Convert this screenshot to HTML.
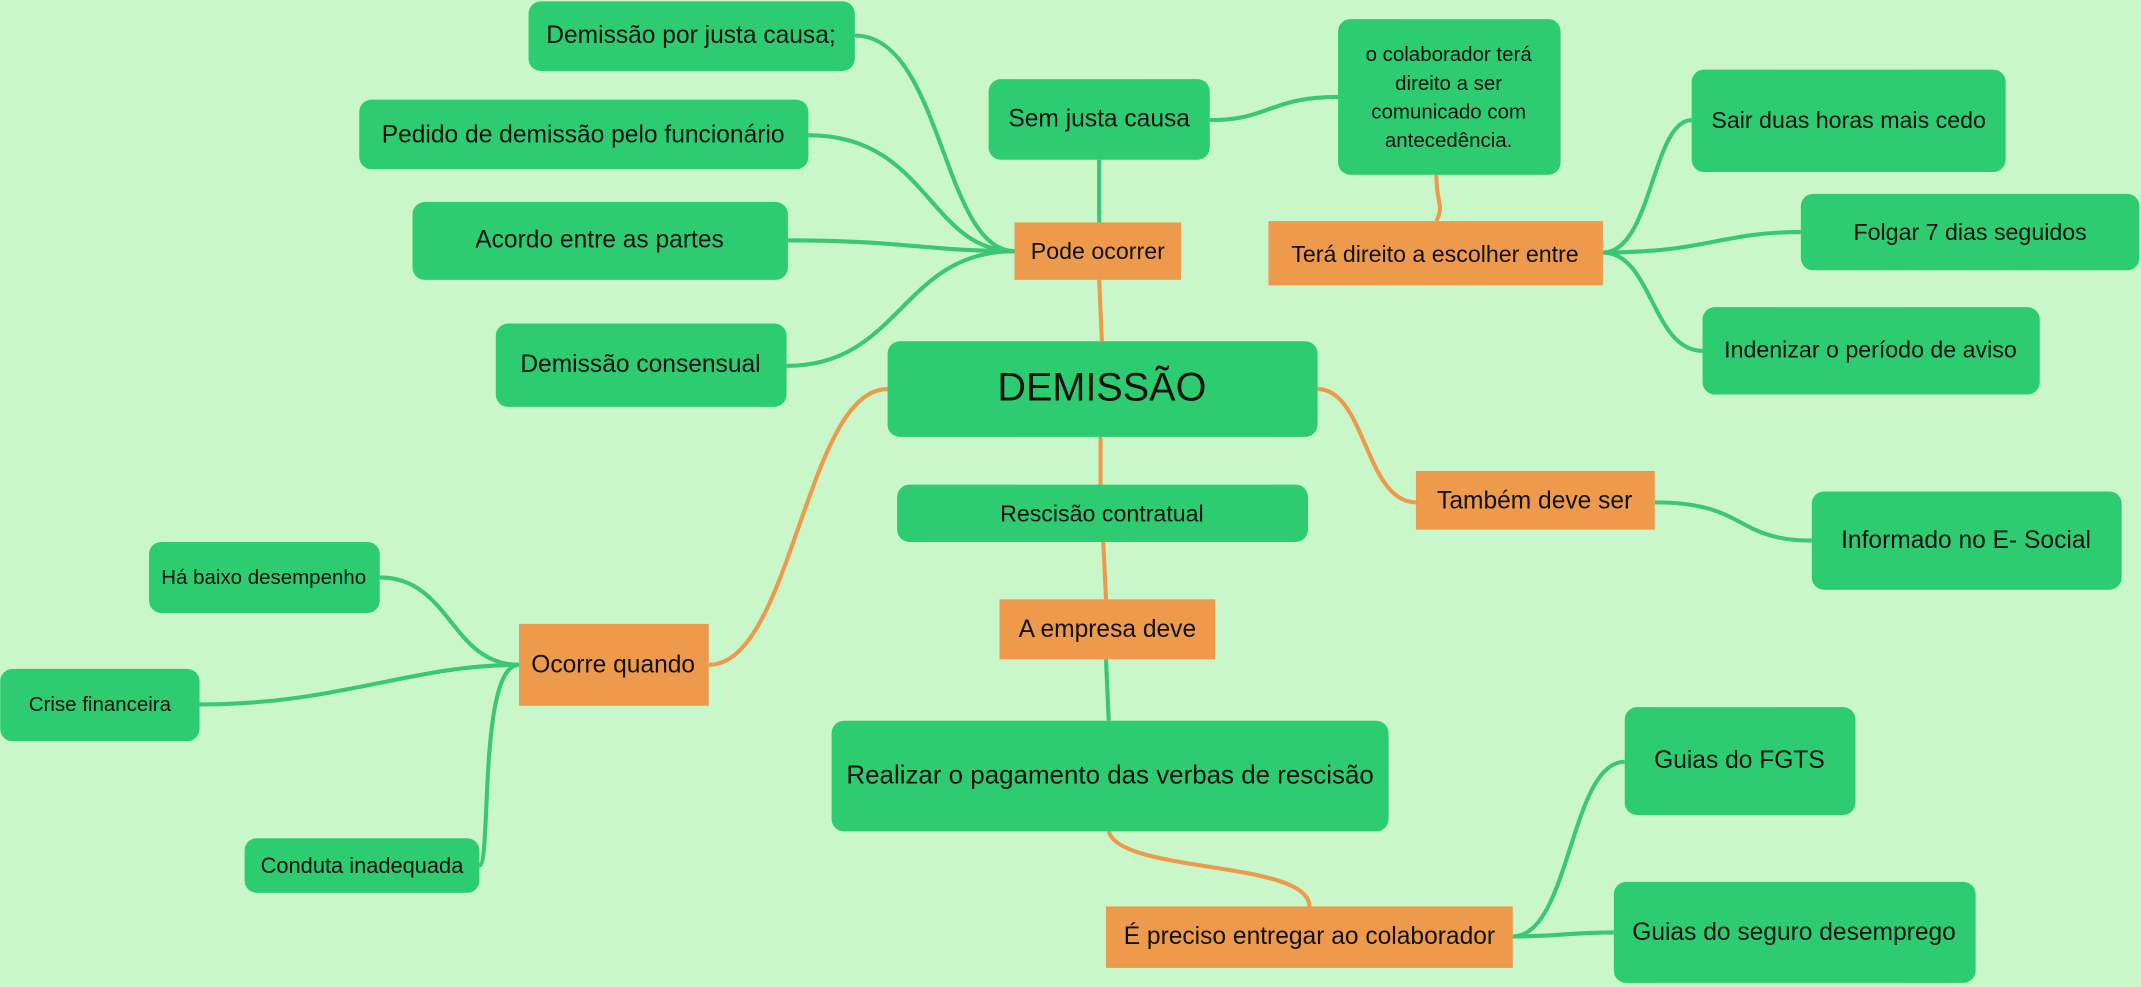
<!DOCTYPE html>
<html><head><meta charset="utf-8"><style>
html,body{margin:0;padding:0;background:#c9f7c9;}
svg{display:block}
text{font-family:"Comic Sans MS","Liberation Sans",sans-serif;fill:#111;text-anchor:middle;dominant-baseline:central}
.g{fill:#2ecc71}
.o{fill:#ee9a4c}
.lg{stroke:#3cc774;stroke-width:3;fill:none}
.lo{stroke:#ee9a4c;stroke-width:3;fill:none}
</style></head><body>
<svg width="2141" height="987" viewBox="0 0 1568 723" xmlns="http://www.w3.org/2000/svg">
<rect width="1568" height="723" fill="#c9f7c9"/>
<!-- connectors -->
<path class="lg" d="M743 184 C690 184 690 26 626 26"/>
<path class="lg" d="M743 184 C680 184 680 99 592 99"/>
<path class="lg" d="M743 184 C680 184 660 176 577 176"/>
<path class="lg" d="M743 184 C660 184 660 268 576 268"/>
<path class="lg" d="M805 117 L805 163"/>
<path class="lo" d="M805 205 L807 250"/>
<path class="lg" d="M886 88 C930 88 930 71 980 71"/>
<path class="lo" d="M1052 128 C1052 150 1058 150 1052 162"/>
<path class="lg" d="M1174 185 C1210 185 1210 88 1239 88"/>
<path class="lg" d="M1174 185 C1250 185 1260 170 1319 170"/>
<path class="lg" d="M1174 185 C1210 185 1210 257 1247 257"/>
<path class="lo" d="M965 285 C1000 285 1000 368 1037 368"/>
<path class="lg" d="M1212 368 C1280 368 1270 396 1327 396"/>
<path class="lo" d="M650 285 C590 285 580 487 519 487"/>
<path class="lg" d="M380 487 C330 487 330 423 278 423"/>
<path class="lg" d="M380 487 C300 487 250 516 146 516"/>
<path class="lg" d="M380 487 C350 487 360 634 351 634"/>
<path class="lo" d="M806 320 L806 355"/>
<path class="lo" d="M808 397 L810 439"/>
<path class="lg" d="M810 483 L812 528"/>
<path class="lo" d="M812 609 C820 640 959 630 959 664"/>
<path class="lg" d="M1108 686 C1150 686 1150 558 1190 558"/>
<path class="lg" d="M1108 686 C1140 686 1150 683 1182 683"/>
<!-- nodes -->
<rect class="g" x="387" y="1" width="239" height="51" rx="9"/><text x="506" y="26" font-size="18">Demissão por justa causa;</text>
<rect class="g" x="263" y="73" width="329" height="51" rx="9"/><text x="427" y="99" font-size="18">Pedido de demissão pelo funcionário</text>
<rect class="g" x="302" y="148" width="275" height="57" rx="9"/><text x="439" y="176" font-size="18">Acordo entre as partes</text>
<rect class="g" x="363" y="237" width="213" height="61" rx="9"/><text x="469" y="267" font-size="18">Demissão consensual</text>
<rect class="g" x="724" y="58" width="162" height="59" rx="9"/><text x="805" y="87" font-size="18">Sem justa causa</text>
<rect class="g" x="980" y="14" width="163" height="114" rx="9"/>
<text x="1061" y="40" font-size="15">o colaborador terá</text>
<text x="1061" y="61" font-size="15">direito a ser</text>
<text x="1061" y="82" font-size="15">comunicado com</text>
<text x="1061" y="103" font-size="15">antecedência.</text>
<rect class="o" x="929" y="162" width="245" height="47"/><text x="1051" y="186" font-size="17">Terá direito a escolher entre</text>
<rect class="g" x="1239" y="51" width="230" height="75" rx="9"/><text x="1354" y="88" font-size="17">Sair duas horas mais cedo</text>
<rect class="g" x="1319" y="142" width="248" height="56" rx="9"/><text x="1443" y="170" font-size="17">Folgar 7 dias seguidos</text>
<rect class="g" x="1247" y="225" width="247" height="64" rx="9"/><text x="1370" y="256" font-size="17">Indenizar o período de aviso</text>
<rect class="o" x="743" y="163" width="122" height="42"/><text x="804" y="184" font-size="17">Pode ocorrer</text>
<rect class="g" x="650" y="250" width="315" height="70" rx="9"/><text x="807" y="284" font-size="29">DEMISSÃO</text>
<rect class="g" x="657" y="355" width="301" height="42" rx="9"/><text x="807" y="376" font-size="17">Rescisão contratual</text>
<rect class="o" x="1037" y="345" width="175" height="43"/><text x="1124" y="367" font-size="18">Também deve ser</text>
<rect class="g" x="1327" y="360" width="227" height="72" rx="9"/><text x="1440" y="396" font-size="18">Informado no E- Social</text>
<rect class="g" x="109" y="397" width="169" height="52" rx="9"/><text x="193" y="423" font-size="15">Há baixo desempenho</text>
<rect class="o" x="380" y="457" width="139" height="60"/><text x="449" y="487" font-size="18">Ocorre quando</text>
<rect class="g" x="0" y="490" width="146" height="53" rx="9"/><text x="73" y="516" font-size="15">Crise financeira</text>
<rect class="g" x="179" y="614" width="172" height="40" rx="9"/><text x="265" y="634" font-size="16">Conduta inadequada</text>
<rect class="o" x="732" y="439" width="158" height="44"/><text x="811" y="461" font-size="18">A empresa deve</text>
<rect class="g" x="609" y="528" width="408" height="81" rx="9"/><text x="813" y="568" font-size="19">Realizar o pagamento das verbas de rescisão</text>
<rect class="o" x="810" y="664" width="298" height="45"/><text x="959" y="686" font-size="18">É preciso entregar ao colaborador</text>
<rect class="g" x="1190" y="518" width="169" height="79" rx="9"/><text x="1274" y="557" font-size="18">Guias do FGTS</text>
<rect class="g" x="1182" y="646" width="265" height="74" rx="9"/><text x="1314" y="683" font-size="18">Guias do seguro desemprego</text>
</svg>
</body></html>
